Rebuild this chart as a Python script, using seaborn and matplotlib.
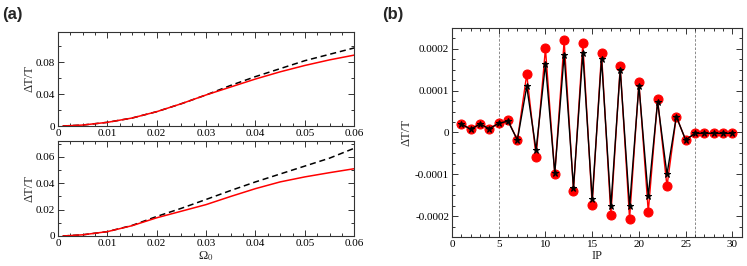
import numpy as np
import pandas as pd
import matplotlib
matplotlib.use("Agg")
import matplotlib.pyplot as plt
from matplotlib.ticker import MultipleLocator
import seaborn as sns

# ---------------- data ----------------
omega = [0.001, 0.005, 0.01, 0.015, 0.02, 0.025, 0.03, 0.035, 0.04, 0.045, 0.05, 0.055, 0.06]
top_red = [0.0, 0.0012, 0.0046, 0.010, 0.018, 0.028, 0.039, 0.049, 0.059, 0.068, 0.076, 0.083, 0.089]
top_black = [0.0, 0.0012, 0.0046, 0.010, 0.018, 0.028, 0.039, 0.051, 0.062, 0.072, 0.082, 0.090, 0.098]
bot_red = [0.0, 0.0009, 0.0033, 0.0078, 0.0138, 0.0188, 0.0238, 0.030, 0.0359, 0.041, 0.0448, 0.048, 0.051]
bot_black = [0.0, 0.0009, 0.0033, 0.0080, 0.0148, 0.021, 0.0277, 0.0345, 0.041, 0.047, 0.053, 0.059, 0.0665]

ip = list(range(1, 31))
red_b = [2.0e-5, 0.8e-5, 2.0e-5, 0.9e-5, 2.2e-5, 2.9e-5, -1.8e-5, 1.39e-4, -0.58e-4, 2.01e-4,
         -1.0e-4, 2.2e-4, -1.39e-4, 2.13e-4, -1.73e-4, 1.9e-4, -1.98e-4, 1.58e-4, -2.07e-4, 1.2e-4,
         -1.9e-4, 0.79e-4, -1.29e-4, 0.38e-4, -1.8e-5, -0.2e-5, -0.2e-5, -0.2e-5, -0.2e-5, -0.2e-5]
black_b = [2.0e-5, 0.8e-5, 2.0e-5, 0.9e-5, 2.2e-5, 2.7e-5, -1.8e-5, 1.10e-4, -0.42e-4, 1.64e-4,
           -0.97e-4, 1.86e-4, -1.32e-4, 1.9e-4, -1.6e-4, 1.76e-4, -1.77e-4, 1.5e-4, -1.77e-4, 1.12e-4,
           -1.53e-4, 0.73e-4, -1.0e-4, 0.38e-4, -1.8e-5, -0.2e-5, -0.2e-5, -0.2e-5, -0.2e-5, -0.2e-5]
vlines_b = [5, 26]

# ---------------- style ----------------
sns.set_style("ticks")
plt.rcParams['font.family'] = ['Liberation Serif', 'DejaVu Serif']
plt.rcParams['mathtext.fontset'] = 'stix'

fig = plt.figure(figsize=(7.47, 2.66), dpi=100)
ax1 = fig.add_axes([0.0776, 0.5263, 0.3966, 0.3534])
ax2 = fig.add_axes([0.0776, 0.1128, 0.3966, 0.3571])
ax3 = fig.add_axes([0.605, 0.109, 0.388, 0.786])

tick_fs = 8

def style_axes(ax):
    for s in ax.spines.values():
        s.set_linewidth(0.8)
        s.set_color('#333333')
    ax.tick_params(which='both', direction='in', top=True, right=True,
                   labelsize=tick_fs, width=0.7, colors='#333333', labelcolor='black', pad=2)
    ax.tick_params(which='major', length=4)
    ax.tick_params(which='minor', length=2)

# panel (a) top
sns.lineplot(x=omega, y=top_black, ax=ax1, color='black', linestyle=(0, (4, 2.5)), linewidth=1.1)
sns.lineplot(x=omega, y=top_red, ax=ax1, color='red', linewidth=1.1)
ax1.set_xlim(0, 0.06)
ax1.set_ylim(0, 0.118)
ax1.xaxis.set_minor_locator(MultipleLocator(0.0025))
ax1.yaxis.set_minor_locator(MultipleLocator(0.02))
ax1.set_xticks([0, 0.01, 0.02, 0.03, 0.04, 0.05, 0.06])
ax1.set_xticklabels(['0', '0.01', '0.02', '0.03', '0.04', '0.05', '0.06'])
ax1.set_yticks([0, 0.04, 0.08])
ax1.set_yticklabels(['0', '0.04', '0.08'])
ax1.set_ylabel('ΔT/T', fontsize=9, labelpad=0)
style_axes(ax1)

# panel (a) bottom
sns.lineplot(x=omega, y=bot_black, ax=ax2, color='black', linestyle=(0, (4, 2.5)), linewidth=1.1)
sns.lineplot(x=omega, y=bot_red, ax=ax2, color='red', linewidth=1.1)
ax2.set_xlim(0, 0.06)
ax2.set_ylim(0, 0.072)
ax2.xaxis.set_minor_locator(MultipleLocator(0.0025))
ax2.yaxis.set_minor_locator(MultipleLocator(0.01))
ax2.set_xticks([0, 0.01, 0.02, 0.03, 0.04, 0.05, 0.06])
ax2.set_xticklabels(['0', '0.01', '0.02', '0.03', '0.04', '0.05', '0.06'])
ax2.set_yticks([0, 0.02, 0.04, 0.06])
ax2.set_yticklabels(['0', '0.02', '0.04', '0.06'])
ax2.set_ylabel('ΔT/T', fontsize=9, labelpad=0)
ax2.set_xlabel('Ω$_0$', fontsize=9, labelpad=1)
style_axes(ax2)

# panel (b)
for xv in vlines_b:
    ax3.axvline(xv, color='#777777', linestyle=(0, (3, 2)), linewidth=0.6, zorder=0)
sns.lineplot(x=ip, y=red_b, ax=ax3, color='red', linewidth=1.0, marker='o',
             markersize=6.5, markeredgecolor='red', markerfacecolor='red')
sns.lineplot(x=ip, y=black_b, ax=ax3, color='black', linewidth=1.0, marker='*',
             markersize=5, markeredgecolor='black', markerfacecolor='black')
ax3.set_xlim(0, 31)
ax3.set_ylim(-0.00025, 0.00025)
ax3.xaxis.set_minor_locator(MultipleLocator(1))
ax3.yaxis.set_minor_locator(MultipleLocator(0.000025))
ax3.set_xticks([0, 5, 10, 15, 20, 25, 30])
ax3.set_xticklabels(['0', '5', '10', '15', '20', '25', '30'])
ax3.set_yticks([-0.0002, -0.0001, 0, 0.0001, 0.0002])
ax3.set_yticklabels(['-0.0002', '-0.0001', '0', '0.0001', '0.0002'])
ax3.set_ylabel('ΔT/T', fontsize=9, labelpad=2)
ax3.set_xlabel('IP', fontsize=9, labelpad=1)
style_axes(ax3)

fig.text(0.003, 0.945, '(a)', fontsize=12, fontweight='bold', family=['Liberation Sans', 'DejaVu Sans'],
         va='center', ha='left')
fig.text(0.512, 0.945, '(b)', fontsize=12, fontweight='bold', family=['Liberation Sans', 'DejaVu Sans'],
         va='center', ha='left')

fig.savefig('out.png', dpi=100)
